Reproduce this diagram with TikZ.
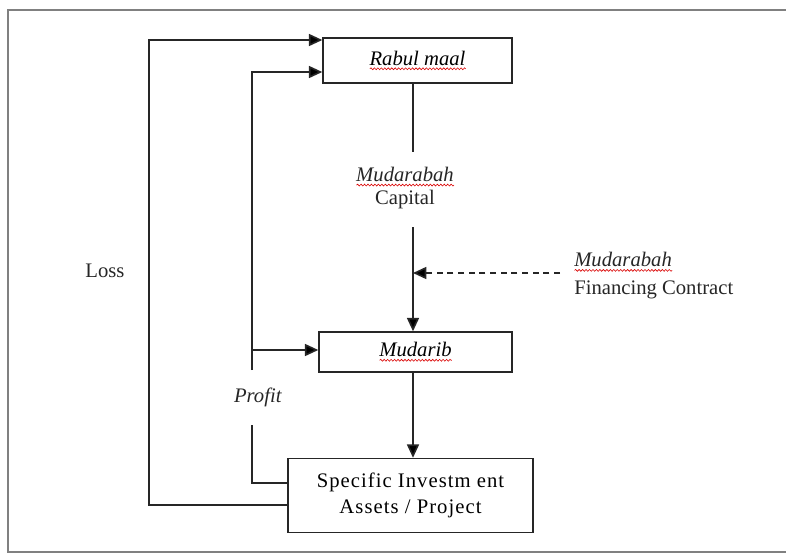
\documentclass[tikz,border=0pt]{standalone}
\usepackage{fontspec}
\setmainfont{Liberation Serif}
\usetikzlibrary{arrows.meta,decorations.pathmorphing}

% red wavy underline of a spell checker
\newsavebox{\spellbox}
\newlength{\spellwd}
\newcommand{\spellmark}[1]{%
  \sbox{\spellbox}{#1}\setlength{\spellwd}{\wd\spellbox}%
  \rlap{\raisebox{-3.5pt}{\tikz\draw[red!85!black, line width=0.45pt, decorate,
    decoration={snake, amplitude=0.7pt, segment length=2.6pt}] (0pt,0pt) -- (\spellwd,0pt);}}%
  \usebox{\spellbox}}

\tikzset{
  box/.style={draw=black!85, line width=1.1pt, inner sep=0.75pt, font=\fontsize{15.5}{18}\selectfont},
  txt/.style={inner sep=0.75pt, font=\fontsize{15.5}{18}\selectfont, text=black!85},
  link/.style={draw=black!85, line width=1.2pt},
  tip/.style={-{Triangle[length=10pt,width=9pt]}},
  frame/.style={draw=black!50, line width=2.2pt},
}

\begin{document}
\begin{tikzpicture}[x=0.75pt,y=0.75pt,yscale=-1,xscale=1]
\useasboundingbox (0,0) rectangle (786,554);
%Frame
\draw [frame] (795,10) -- (8,10) -- (8,552) -- (795,552);
%Shape: Rectangle
\node [box, minimum width=141.75pt, minimum height=33.75pt] (rabul) at (417.5,60.5) {\textit{\spellmark{Rabul maal}}};
%Shape: Rectangle
\node [box, minimum width=144.75pt, minimum height=30pt] (mudarib) at (415.5,352) {\textit{\spellmark{Mudarib}}};
%Shape: Rectangle
\node [box, minimum width=183.75pt, minimum height=55.5pt, align=center] (invest) at (410.5,495.5) {\addfontfeature{LetterSpace=5}Specific Investm ent\\[2pt]\addfontfeature{LetterSpace=5}Assets / Project};
% Text Node
\node [txt, align=center] (capital) at (405,188) {\textit{\spellmark{Mudarabah}}\\[-1pt]Capital};
% Text Node
\node [txt, align=left, anchor=west] (contract) at (573,276) {\textit{\spellmark{Mudarabah}}\\[3pt]Financing Contract};
% Text Node
\node [txt] (loss) at (105,271) {Loss};
% Text Node
\node [txt] (profit) at (258,397) {\textit{Profit}};

\coordinate (loss top) at (149,40);
\coordinate (loss bot) at (149,505);
\coordinate (profit top) at (252,72);
\coordinate (profit mid) at (252,350);
\coordinate (profit bot) at (252,483);
\coordinate (profit a) at (252,370);
\coordinate (profit b) at (252,425);
\coordinate (cap up) at (413,152);
\coordinate (cap down) at (413,227);
\coordinate (contract end) at (560,273);

%Straight Lines
\draw [link, tip] (loss bot -| invest.west) -- (loss bot) -- (loss top) -- (loss top -| rabul.west);
%Straight Lines
\draw [link] (profit bot -| invest.west) -- (profit bot) -- (profit b);
\draw [link, tip] (profit a) -- (profit top) -- (profit top -| rabul.west);
\draw [link, tip] (profit mid) -- (profit mid -| mudarib.west);
%Straight Lines
\draw [link] (rabul.south -| cap up) -- (cap up);
\draw [link, tip] (cap down) -- (cap down |- mudarib.north);
\draw [link, tip, dash pattern=on 4.5pt off 3.5pt] (contract end) -- (contract end -| cap down);
\draw [link, tip] (mudarib.south -| cap down) -- (invest.north -| cap down);
\end{tikzpicture}
\end{document}
